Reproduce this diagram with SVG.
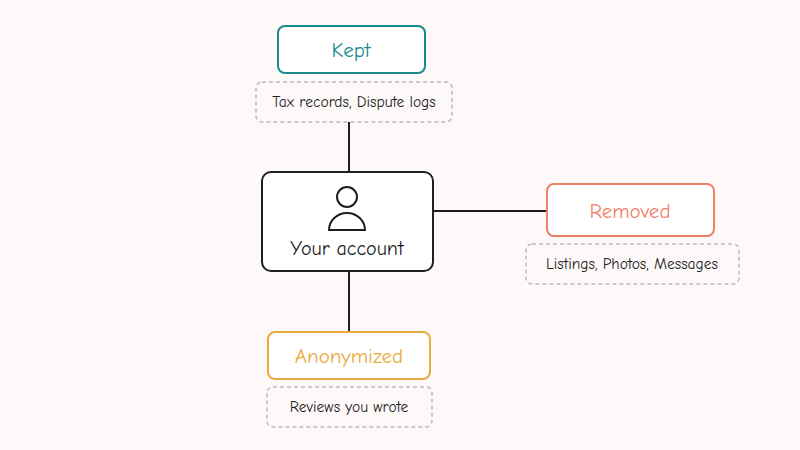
<svg xmlns="http://www.w3.org/2000/svg" width="800" height="450" viewBox="0 0 800 450">
<style>
.t{font-family:"Comic Neue","Liberation Sans",sans-serif;text-anchor:middle}
.note{fill:none;stroke:#bbb;stroke-width:1.5;stroke-dasharray:4 3}
.nt{font-size:15.5px;fill:#222}
.h{font-size:21px}
.ln{stroke:#1e1e1e;stroke-width:2;fill:none}
</style>
<rect width="800" height="450" fill="#fdf9f9"/>
<g id="connectors">
<line class="ln" x1="349" y1="122" x2="349" y2="172"/>
<line class="ln" x1="433" y1="211" x2="546" y2="211"/>
<line class="ln" x1="349" y1="271" x2="349" y2="332"/>
</g>
<g id="account">
<rect x="262" y="172" width="171" height="99" rx="9" fill="#fff" stroke="#1e1e1e" stroke-width="2"/>
<circle cx="347" cy="197" r="10" fill="none" stroke="#1e1e1e" stroke-width="2"/>
<path d="M329 230 A18 17 0 0 1 365 230 Z" fill="none" stroke="#1e1e1e" stroke-width="2"/>
<text class="t" x="347" y="255" font-size="20" fill="#1e1e1e">Your account</text>
</g>
<g id="kept">
<rect x="278" y="26" width="147" height="47" rx="7" fill="#fff" stroke="#1a8a8c" stroke-width="2"/>
<text class="t h" x="351" y="57" fill="#1a8a8c">Kept</text>
<rect class="note" x="256" y="82" width="196" height="40" rx="6"/>
<text class="t nt" x="354" y="107">Tax records, Dispute logs</text>
</g>
<g id="removed">
<rect x="547" y="184" width="167" height="52" rx="7" fill="#fff" stroke="#f07f6a" stroke-width="2"/>
<text class="t h" x="630" y="218" fill="#f07f6a">Removed</text>
<rect class="note" x="526" y="244" width="213" height="40" rx="6"/>
<text class="t nt" x="632" y="269">Listings, Photos, Messages</text>
</g>
<g id="anonymized">
<rect x="268" y="332" width="162" height="47" rx="7" fill="#fff" stroke="#eaaa3f" stroke-width="2"/>
<text class="t h" x="349" y="363" fill="#eaaa3f">Anonymized</text>
<rect class="note" x="267" y="387" width="165" height="40" rx="6"/>
<text class="t nt" x="349" y="412">Reviews you wrote</text>
</g>
</svg>
